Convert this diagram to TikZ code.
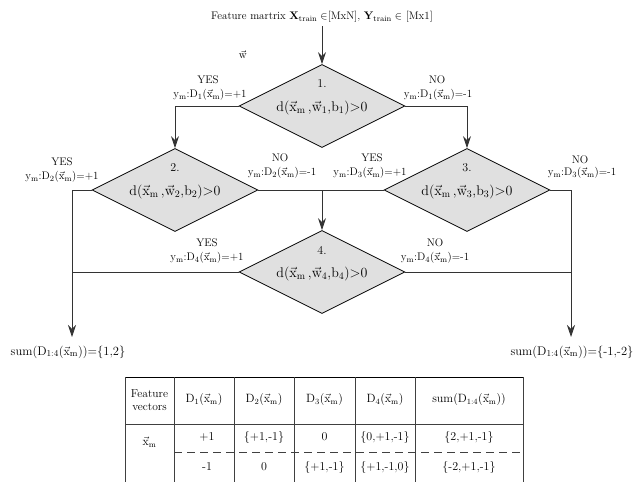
\documentclass[tikz,border=0pt]{standalone}
\usetikzlibrary{shapes.geometric,arrows.meta}
\newcommand{\xmvec}{$\vec{\mathrm{x}}_{\mathrm{m}}$}
\newcommand{\dlab}[2]{y$_{\mathrm{m}}$:D$_{#1}$(\xmvec)=#2}
\newcommand{\dcond}[1]{d(\xmvec\,,$\vec{\mathrm{w}}_{#1}$,b$_{#1}$)$>$0}
\newcommand{\sumD}{sum(D$_{1:4}$(\xmvec))}
\begin{document}
\begin{tikzpicture}[x=1pt,y=-1pt,
  dec/.style={diamond, draw=black, line width=0.8pt, fill=black!12,
    minimum width=166pt, minimum height=83pt, inner sep=0pt},
  num/.style={font=\fontsize{12}{14}\selectfont, inner sep=0pt},
  cond/.style={font=\fontsize{14}{16}\selectfont, inner sep=0pt},
  lab/.style={font=\fontsize{11}{13}\selectfont, inner sep=0pt},
  wire/.style={line width=0.8pt, draw=black!80},
  arr/.style={wire, -{Stealth[length=12pt,width=8pt,inset=4pt]}},
  tline/.style={line width=0.6pt, draw=black!75},
  tcell/.style={font=\fontsize{12}{14}\selectfont, inner sep=0pt, align=center}]
\useasboundingbox (0,0) rectangle (635,482);

% input
\node[font=\fontsize{11}{13}\selectfont] (top) at (322,17)
  {Feature martrix $\mathbf{X}_{\mathrm{train}}\in$[MxN], $\mathbf{Y}_{\mathrm{train}}\in$ [Mx1]};
\node[lab] (wv) at (243,55) {$\vec{\mathrm{w}}$};

% decision nodes
\node[dec] (d1) at (322,106) {};
\node[dec] (d2) at (175,190) {};
\node[dec] (d3) at (467,190) {};
\node[dec] (d4) at (322,272) {};
\foreach \k in {1,...,4}{
  \node[num]  (n\k) at ([yshift=22pt]d\k.center) {\k.};
  \node[cond] (c\k) at ([yshift=-2pt]d\k.center) {\dcond{\k}};
}

% free ends and junction
\coordinate (pL) at (72,337);
\coordinate (pR) at (571,337);
\coordinate (j)  at (322,190);

% connectors
\draw[arr] (top.south) -- (d1.north);
\draw[arr] (d1.west) -| (d2.north);
\draw[arr] (d1.east) -| (d3.north);
\draw[arr] (d2.west) -| (pL);
\draw[arr] (d3.east) -| (pR);
\draw[wire] (d2.east) -- (j);
\draw[wire] (d3.west) -- (j);
\draw[arr] (j) -- (d4.north);
\draw[wire] (d4.west) -- (d4.west -| pL);
\draw[wire] (d4.east) -- (d4.east -| pR);

% branch labels
\node[lab] (y1) at (208,80) {YES};  \node[lab] (y1l) at (210,95) {\dlab{1}{+1}};
\node[lab] (o1) at (437,80) {NO};   \node[lab] (o1l) at (438,95) {\dlab{1}{-1}};
\node[lab] (y2) at (62,162) {YES};  \node[lab] (y2l) at (62,177) {\dlab{2}{+1}};
\node[lab] (o2) at (280,158) {NO};  \node[lab] (o2l) at (282,173) {\dlab{2}{-1}};
\node[lab] (y3) at (372,158) {YES}; \node[lab] (y3l) at (370,173) {\dlab{3}{+1}};
\node[lab] (o3) at (580,160) {NO};  \node[lab] (o3l) at (582,173) {\dlab{3}{-1}};
\node[lab] (y4) at (207,243) {YES}; \node[lab] (y4l) at (207,258) {\dlab{4}{+1}};
\node[lab] (o4) at (435,243) {NO};  \node[lab] (o4l) at (435,258) {\dlab{4}{-1}};

% outputs
\node[font=\fontsize{12.5}{14}\selectfont, inner sep=0pt] (sL) at (68,352) {\sumD=\{1,2\}};
\node[font=\fontsize{12.5}{14}\selectfont, inner sep=0pt] (sR) at (572,352) {\sumD=\{-1,-2\}};

% summary table
\draw[line width=0.9pt] (125,377) -- (523,377);
\foreach \cx in {125,174,234,294,355,415,523}
  \draw[tline] (\cx,377) -- (\cx,482);
\draw[tline] (125,424) -- (523,424);
\draw[tline, dash pattern=on 8pt off 5pt] (174,452) -- (523,452);

\node[tcell, font=\fontsize{11.5}{13}\selectfont] (h0) at (149.5,400) {Feature\\vectors};
\node[tcell] (h1) at (204,400) {D$_1$(\xmvec)};
\node[tcell] (h2) at (264,400) {D$_2$(\xmvec)};
\node[tcell] (h3) at (324.5,400) {D$_3$(\xmvec)};
\node[tcell] (h4) at (385,400) {D$_4$(\xmvec)};
\node[tcell] (h5) at (469,400) {\sumD};

\node[tcell] (r0) at (149.5,442) {\xmvec};
\node[tcell] (a1) at (207,437) {+1};
\node[tcell] (a2) at (264,437) {\{+1,-1\}};
\node[tcell] (a3) at (324.5,437) {0};
\node[tcell] (a4) at (385,437) {\{0,+1,-1\}};
\node[tcell] (a5) at (469,437) {\{2,+1,-1\}};
\node[tcell] (b1) at (207,467) {-1};
\node[tcell] (b2) at (264,467) {0};
\node[tcell] (b3) at (324.5,467) {\{+1,-1\}};
\node[tcell] (b4) at (385,467) {\{+1,-1,0\}};
\node[tcell] (b5) at (469,467) {\{-2,+1,-1\}};
\end{tikzpicture}
\end{document}
